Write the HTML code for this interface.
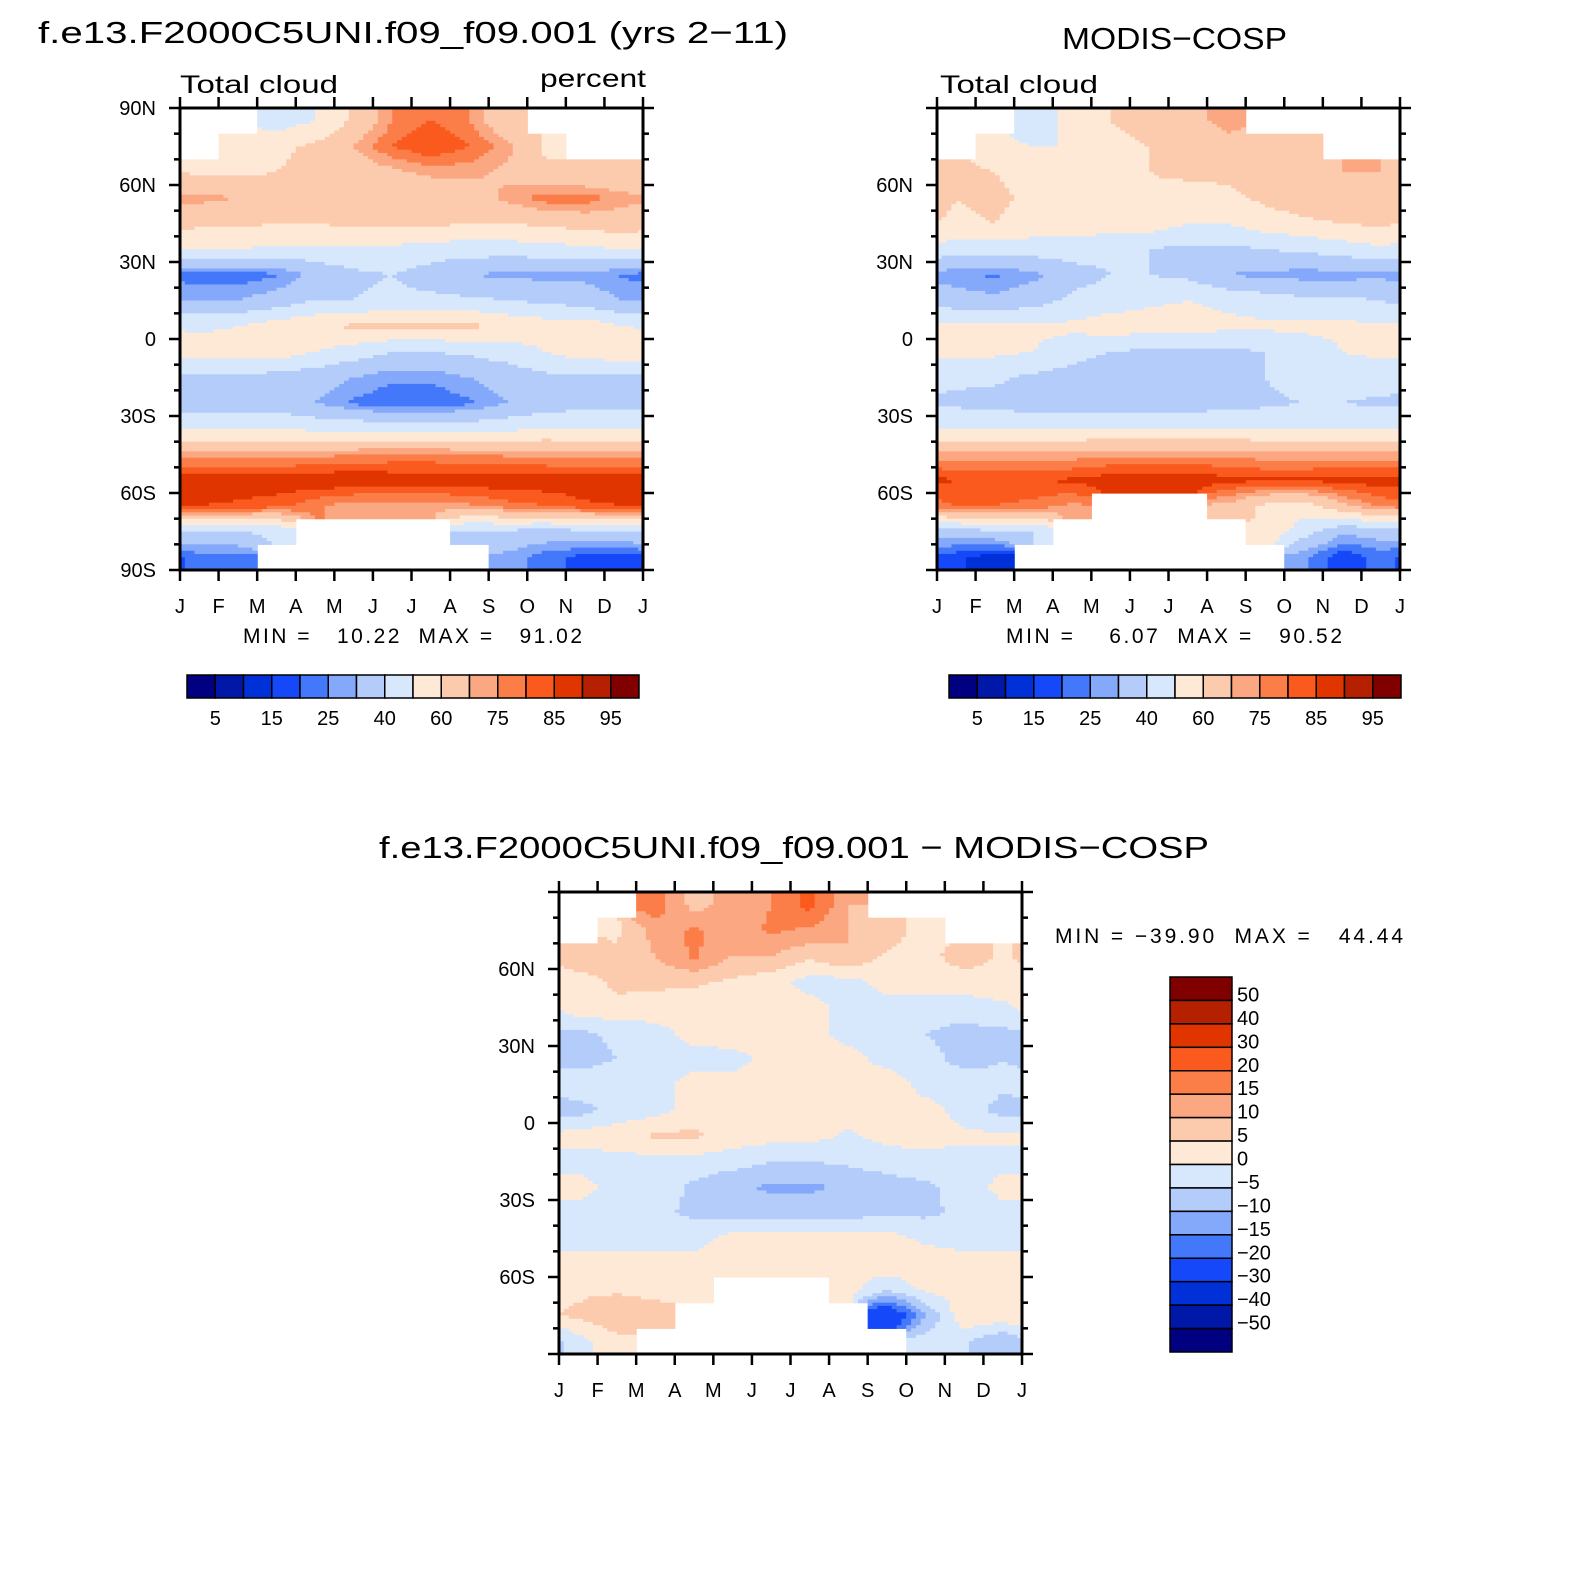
<!DOCTYPE html>
<html><head><meta charset="utf-8"><style>
html,body{margin:0;padding:0;background:#fff;}
svg{display:block;font-family:"Liberation Sans",sans-serif;}
</style></head><body>
<svg id="fig" width="1580" height="1580" viewBox="0 0 1580 1580" xmlns="http://www.w3.org/2000/svg">
<rect width="1580" height="1580" fill="#fff"/>
<text x="38" y="43" font-size="31" textLength="750" lengthAdjust="spacingAndGlyphs">f.e13.F2000C5UNI.f09_f09.001 (yrs 2−11)</text>
<text x="1062" y="49" font-size="31" textLength="225" lengthAdjust="spacingAndGlyphs">MODIS−COSP</text>
<text x="379" y="858" font-size="31" textLength="830" lengthAdjust="spacingAndGlyphs">f.e13.F2000C5UNI.f09_f09.001 − MODIS−COSP</text>
<text x="180" y="93" font-size="25" textLength="158" lengthAdjust="spacingAndGlyphs">Total cloud</text>
<text x="646" y="87" font-size="25" text-anchor="end" textLength="106" lengthAdjust="spacingAndGlyphs">percent</text>
<text x="940" y="93" font-size="25" textLength="158" lengthAdjust="spacingAndGlyphs">Total cloud</text>
<text x="243" y="643" font-size="21" textLength="339" lengthAdjust="spacing" xml:space="preserve">MIN =   10.22  MAX =   91.02</text>
<text x="1006" y="643" font-size="21" textLength="336" lengthAdjust="spacing" xml:space="preserve">MIN =    6.07  MAX =   90.52</text>
<text x="1055" y="943" font-size="21" textLength="348" lengthAdjust="spacing" xml:space="preserve">MIN = −39.90  MAX =   44.44</text>
<g id="layer"></g>
</svg>
<script>
const months = ['J','F','M','A','M','J','J','A','S','O','N','D','J'];
const lats = [85,75,65,55,45,35,25,15,5,-5,-15,-25,-35,-45,-55,-65,-75,-85];
const levelsAbs = [5,10,15,20,25,30,40,50,60,70,75,80,85,90,95];
const levelsDiff = [-50,-40,-30,-20,-15,-10,-5,0,5,10,15,20,30,40,50];
const cbLabelsAbs = [5,15,25,40,60,75,85,95];
const cbLabelsDiff = ['50','40','30','20','15','10','5','0','−5','−10','−15','−20','−30','−40','−50'];
const palette = ['#000080','#0018a8','#0030d8','#1448f8','#4478fa','#84a8fa','#b4ccfa','#d7e8fc','#fee9d7','#fccbae','#fba882','#fb7d48','#fb5a1e','#e13500','#b42000','#800000'];
const N = null;
const modelData = [
[N,N,45,50,62,75,80,75,62,N,N,N],
[N,55,58,62,70,80,85,80,72,58,N,N],
[58,58,60,62,65,68,72,72,68,62,60,62],
[72,70,65,62,62,62,62,65,72,78,78,72],
[62,62,60,60,62,62,62,60,60,62,64,66],
[50,50,48,48,48,48,45,45,45,46,48,50],
[22,22,24,32,38,40,36,30,28,28,28,24],
[30,30,34,40,40,42,42,42,40,38,35,30],
[48,50,55,58,62,62,62,62,58,55,56,50],
[55,55,55,50,45,40,40,42,45,50,55,56],
[38,38,36,34,30,26,26,30,34,38,38,38],
[35,35,34,30,24,21,21,24,30,35,36,36],
[50,50,50,48,48,46,46,46,48,50,50,50],
[72,72,72,73,75,76,76,75,74,73,72,72],
[89,89,89,90,90,89,89,89,89,89,89,89],
[85,84,82,76,72,72,72,74,78,80,84,85],
[40,40,42,N,N,N,N,38,38,36,38,40],
[22,22,N,N,N,N,N,N,28,22,18,16]];
const obsData = [
[N,N,40,55,60,62,68,72,N,N,N,N],
[N,55,50,50,58,60,62,68,65,62,N,N],
[62,60,55,55,58,60,62,62,62,68,70,70],
[60,62,58,56,58,58,56,58,62,66,66,68],
[58,60,56,56,55,55,50,50,55,58,60,62],
[45,45,45,45,42,40,38,38,40,42,45,48],
[26,24,28,36,40,40,38,30,28,27,27,28],
[34,32,36,42,45,48,50,48,45,42,42,40],
[52,52,52,52,55,55,55,52,52,52,52,52],
[52,52,50,45,40,38,38,38,40,45,50,52],
[42,42,38,35,32,34,35,36,40,45,45,45],
[38,36,35,35,35,35,35,36,38,40,40,38],
[50,50,50,50,50,50,50,50,50,50,50,50],
[72,72,72,72,74,74,74,74,72,72,72,72],
[85,85,85,86,88,89,89,87,86,86,87,88],
[80,80,78,74,N,N,N,68,58,55,68,76],
[36,38,40,N,N,N,N,N,58,45,32,34],
[16,12,N,N,N,N,N,N,N,26,16,22]];
const diffData = [
[N,N,18,8,12,15,22,10,N,N,N,N],
[N,4,12,16,12,16,14,10,8,2,N,N],
[8,6,10,16,10,10,6,10,4,3,8,4],
[3,6,6,6,4,2,-2,-2,2,2,2,3],
[3,4,3,2,2,3,2,-2,-2,-2,-2,-1],
[-6,-4,-2,2,3,3,2,-2,-3,-5,-7,-6],
[-7,-5,-2,-2,-2,2,2,2,-2,-3,-7,-5],
[-2,-2,-2,2,2,3,3,3,3,-2,-2,-4],
[-7,-3,-2,2,3,3,3,2,2,2,-2,-7],
[2,3,6,6,3,2,2,-1,2,2,1,1],
[-2,-2,-2,-2,-3,-5,-5,-4,-3,-2,-2,-2],
[2,-2,-2,-6,-9,-11,-11,-9,-7,-6,-3,2],
[-2,-3,-4,-6,-7,-7,-7,-7,-6,-6,-4,-2],
[-2,-2,-2,-2,2,3,3,2,2,-1,-2,-2],
[2,2,2,2,2,3,2,2,3,3,2,2],
[4,4,3,3,N,N,N,2,-4,1,2,2],
[6,10,8,N,N,N,N,N,-30,-10,4,4],
[-2,3,N,N,N,N,N,N,N,-2,-4,-10]];

const NS='http://www.w3.org/2000/svg';
const layer=document.getElementById('layer');
function mk(tag,attrs,parent){const e=document.createElementNS(NS,tag);for(const k in attrs)e.setAttribute(k,attrs[k]);(parent||layer).appendChild(e);return e;}
function colorFor(v,levels){let k=0;while(k<levels.length&&v>=levels[k])k++;return palette[k];}
function sample(data,fx,fy){
  const nc=12,nr=lats.length;
  const i0=Math.floor(fx),j0=Math.floor(fy);const tx=fx-i0,ty=fy-j0;
  let s=0,ws=0;
  for(const[di,wx]of[[0,1-tx],[1,tx]])for(const[dj,wy]of[[0,1-ty],[1,ty]]){
    const i=((i0+di)%nc+nc)%nc;const j=Math.min(nr-1,Math.max(0,j0+dj));
    const v=data[j][i];const w=wx*wy;if(v!==null&&w>0){s+=v*w;ws+=w;}
  }
  return ws>0?s/ws:null;
}
function drawPanel(name,data,levels,x0,y0,w,h,yLabs){
  const g=mk('g',{});
  
  
  const xs=m=>x0+m/12*w; const ys=lat=>y0+(90-lat)/180*h;
  const subX=8,subY=8,nx=12*subX,ny=lats.length*subY;
  const dx=w/nx,dy=h/ny;
  for(let r=0;r<ny;r++){
    const cj=Math.floor(r/subY);const fy=(r+0.5)/subY-0.5;
    let runStart=-1,runCol=null;
    const flush=(end)=>{if(runCol){const rc=mk('rect',{x:(x0+runStart*dx).toFixed(2),y:(y0+r*dy).toFixed(2),width:((end-runStart)*dx+0.6).toFixed(2),height:(dy+0.6).toFixed(2),fill:runCol},g);
      
      }};
    for(let c=0;c<nx;c++){
      const ci=Math.floor(c/subX);let col=null;
      if(data[cj][ci]!==null){const v=sample(data,(c+0.5)/subX-0.5,fy);if(v!==null)col=colorFor(v,levels);}
      if(col!==runCol){flush(c);runStart=c;runCol=col;}
    }
    flush(nx);
  }
  const ax=mk('g',{stroke:'#000','stroke-width':2.5,fill:'none'});
  
  
  mk('rect',{x:x0,y:y0,width:w,height:h,'stroke-width':3},ax);
  for(let m=0;m<=12;m++){const x=xs(m);mk('line',{x1:x,y1:y0,x2:x,y2:y0-11},ax);mk('line',{x1:x,y1:y0+h,x2:x,y2:y0+h+11},ax);
    const t=mk('text',{x:x,y:y0+h+43,'font-size':20,'text-anchor':'middle',fill:'#000',stroke:'none'});t.textContent=months[m];
    
    }
  for(let lat=90;lat>=-90;lat-=10){const y=ys(lat);const L=(lat%30===0)?11:6;mk('line',{x1:x0,y1:y,x2:x0-L,y2:y},ax);mk('line',{x1:x0+w,y1:y,x2:x0+w+L,y2:y},ax);}
  for(const [lat,lab] of yLabs){const t=mk('text',{x:x0-24,y:ys(lat)+7,'font-size':20,'text-anchor':'end'});t.textContent=lab;
    
    }
}
const yAll=[[90,'90N'],[60,'60N'],[30,'30N'],[0,'0'],[-30,'30S'],[-60,'60S'],[-90,'90S']];
const yIn=yAll.slice(1,6);
drawPanel('model',modelData,levelsAbs,180,108,463,462,yAll);
drawPanel('obs',obsData,levelsAbs,937,108,463,462,yIn);
drawPanel('diff',diffData,levelsDiff,559,892,463,462,yIn);

function hbar(name,x0,y0,w,h){
  const g=mk('g',{});
  const bw=w/16;
  for(let k=0;k<16;k++){const r=mk('rect',{x:x0+k*bw,y:y0,width:bw,height:h,fill:palette[k],stroke:'#000','stroke-width':1.5},g);
    }
  for(const v of cbLabelsAbs){const k=levelsAbs.indexOf(v)+1;const t=mk('text',{x:x0+k*bw,y:y0+h+27,'font-size':20,'text-anchor':'middle'},g);t.textContent=v;
    }
}
hbar('model-colorbar',187,675,452,23);
hbar('obs-colorbar',949,675,452,23);
(function(){
  const x0=1170,y0=977,w=62,h=375;const bh=h/16;
  const g=mk('g',{});
  for(let k=0;k<16;k++){const r=mk('rect',{x:x0,y:y0+k*bh,width:w,height:bh,fill:palette[15-k],stroke:'#000','stroke-width':1.5},g);
    }
  cbLabelsDiff.forEach((lab,k)=>{const t=mk('text',{x:x0+w+5,y:y0+(k+1)*bh+1,'font-size':20},g);t.textContent=lab;
    });
})();
</script>
</body></html>
